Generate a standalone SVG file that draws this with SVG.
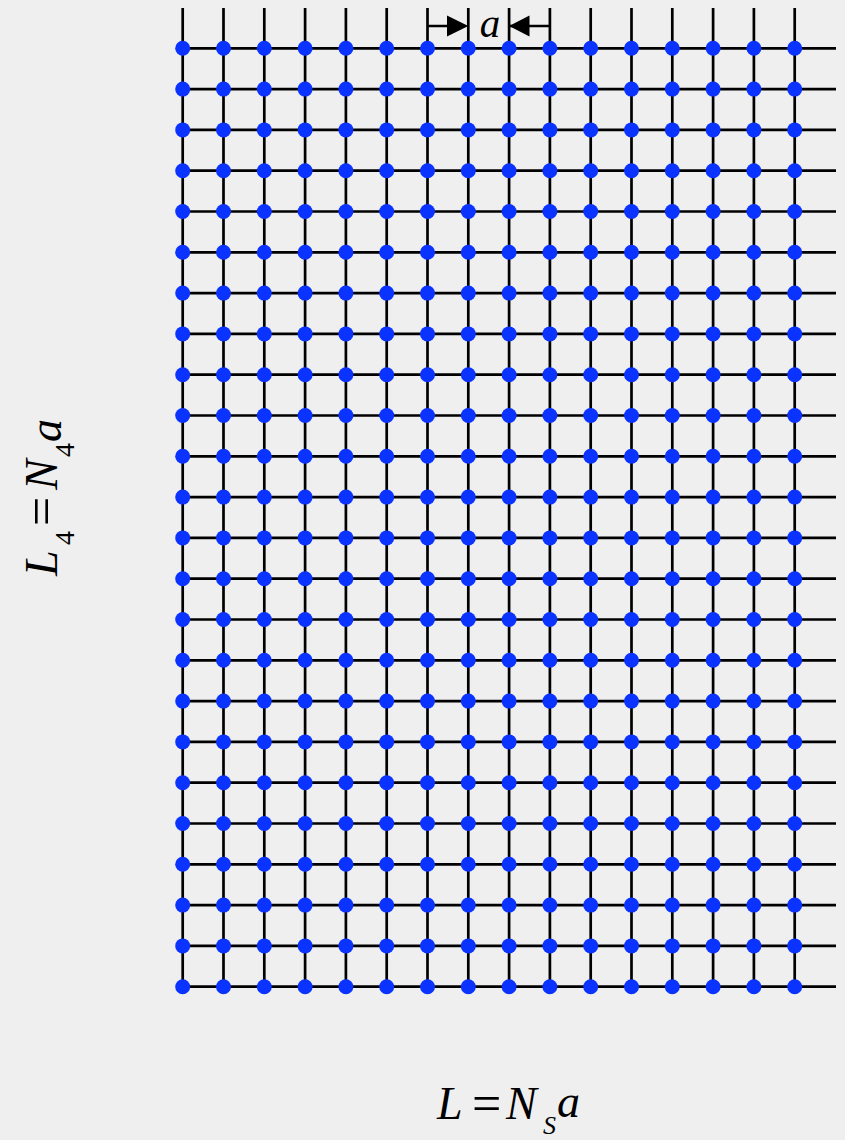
<svg xmlns="http://www.w3.org/2000/svg" xmlns:xlink="http://www.w3.org/1999/xlink" width="845" height="1140" viewBox="0 0 845 1140">
<style>
.g{stroke:#000;stroke-width:2.7;fill:none}
.d{fill:#0a33ff}
.m{font-family:"Liberation Serif","Times New Roman",serif;fill:#000}
.i{font-style:italic}
</style>
<defs>
<g id="row">
<circle class="d" cx="182.7" cy="0" r="7.5"/><circle class="d" cx="223.5" cy="0" r="7.5"/><circle class="d" cx="264.3" cy="0" r="7.5"/><circle class="d" cx="305.1" cy="0" r="7.5"/><circle class="d" cx="345.9" cy="0" r="7.5"/><circle class="d" cx="386.7" cy="0" r="7.5"/><circle class="d" cx="427.5" cy="0" r="7.5"/><circle class="d" cx="468.3" cy="0" r="7.5"/><circle class="d" cx="509.1" cy="0" r="7.5"/><circle class="d" cx="549.9" cy="0" r="7.5"/><circle class="d" cx="590.7" cy="0" r="7.5"/><circle class="d" cx="631.5" cy="0" r="7.5"/><circle class="d" cx="672.3" cy="0" r="7.5"/><circle class="d" cx="713.1" cy="0" r="7.5"/><circle class="d" cx="753.9" cy="0" r="7.5"/><circle class="d" cx="794.7" cy="0" r="7.5"/>
</g>
</defs>
<rect width="845" height="1140" fill="#efefef"/>
<g id="connectors" class="g">
<path d="M182.7 8V986.7M223.5 8V986.7M264.3 8V986.7M305.1 8V986.7M345.9 8V986.7M386.7 8V986.7M427.5 8V986.7M468.3 8V986.7M509.1 8V986.7M549.9 8V986.7M590.7 8V986.7M631.5 8V986.7M672.3 8V986.7M713.1 8V986.7M753.9 8V986.7M794.7 8V986.7"/>
<path d="M182.7 48.3H836M182.7 89.1H836M182.7 129.9H836M182.7 170.7H836M182.7 211.5H836M182.7 252.3H836M182.7 293.1H836M182.7 333.9H836M182.7 374.7H836M182.7 415.5H836M182.7 456.3H836M182.7 497.1H836M182.7 537.9H836M182.7 578.7H836M182.7 619.5H836M182.7 660.3H836M182.7 701.1H836M182.7 741.9H836M182.7 782.7H836M182.7 823.5H836M182.7 864.3H836M182.7 905.1H836M182.7 945.9H836M182.7 986.7H836"/>
</g>
<g id="lattice">
<use xlink:href="#row" y="48.3"/><use xlink:href="#row" y="89.1"/><use xlink:href="#row" y="129.9"/><use xlink:href="#row" y="170.7"/><use xlink:href="#row" y="211.5"/><use xlink:href="#row" y="252.3"/><use xlink:href="#row" y="293.1"/><use xlink:href="#row" y="333.9"/><use xlink:href="#row" y="374.7"/><use xlink:href="#row" y="415.5"/><use xlink:href="#row" y="456.3"/><use xlink:href="#row" y="497.1"/><use xlink:href="#row" y="537.9"/><use xlink:href="#row" y="578.7"/><use xlink:href="#row" y="619.5"/><use xlink:href="#row" y="660.3"/><use xlink:href="#row" y="701.1"/><use xlink:href="#row" y="741.9"/><use xlink:href="#row" y="782.7"/><use xlink:href="#row" y="823.5"/><use xlink:href="#row" y="864.3"/><use xlink:href="#row" y="905.1"/><use xlink:href="#row" y="945.9"/><use xlink:href="#row" y="986.7"/>
</g>
<g id="spacing">
<path class="g" d="M427.5 26H449M508 26H549.9"/>
<polygon points="447,15.5 447,36.5 468.3,26" fill="#000"/>
<polygon points="529.5,15.5 529.5,36.5 509.1,26" fill="#000"/>
<text class="m i" x="490" y="37" font-size="41" text-anchor="middle">a</text>
</g>
<g id="label-L">
<text class="m" y="1119" font-size="46"><tspan class="i" x="437">L</tspan><tspan x="472" y="1120.5" font-size="52">=</tspan><tspan class="i" x="506" y="1119">N</tspan><tspan class="i" x="543" y="1134" font-size="26">S</tspan><tspan class="i" x="557" y="1117" font-size="46">a</tspan></text>
</g>
<g id="label-L4">
<text class="m" transform="translate(57,576) rotate(-90)" font-size="46"><tspan class="i" x="0" y="0">L</tspan><tspan x="31" y="17" font-size="28">4</tspan><tspan x="50" y="1.5" font-size="52">=</tspan><tspan class="i" x="86" y="0">N</tspan><tspan x="119" y="17" font-size="28">4</tspan><tspan class="i" x="134" y="4" font-size="46">a</tspan></text>
</g>
</svg>
